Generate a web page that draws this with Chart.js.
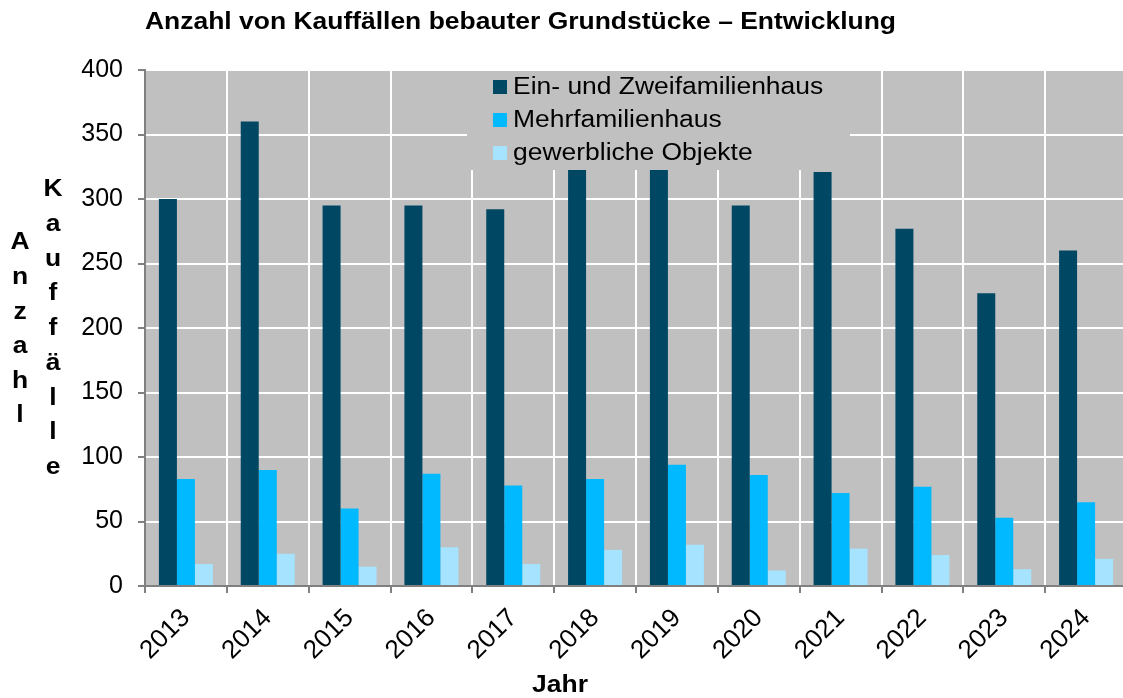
<!DOCTYPE html>
<html>
<head>
<meta charset="utf-8">
<script src="https://cdn.jsdelivr.net/npm/chart.js@4.4.1/dist/chart.umd.min.js"></script>
<style>
  html, body { margin: 0; padding: 0; background: #fff; overflow: hidden; }
  #wrap { width: 1127px; height: 698px; }
</style>
</head>
<body>
<div id="wrap"><canvas id="kaufChart"></canvas></div>
<script>
const years = ['2013', '2014', '2015', '2016', '2017', '2018', '2019', '2020', '2021', '2022', '2023', '2024'];
const einZwei = [300, 360, 295, 295, 292, 330, 335, 295, 321, 277, 227, 260];
const mehrfam = [83, 90, 60, 87, 78, 83, 94, 86, 72, 77, 53, 65];
const gewerbe = [17, 25, 15, 30, 17, 28, 32, 12, 29, 24, 13, 21];
const yTicks = [0, 50, 100, 150, 200, 250, 300, 350, 400];

const FONT = '"Liberation Sans", Arial, sans-serif';
const STRETCH = 1.15;

// text a bit wider than the font, as in the original export
function wideText(ctx, text, x, y, align) {
  ctx.save();
  ctx.translate(x, y);
  ctx.scale(STRETCH, 1);
  ctx.textAlign = align || 'left';
  ctx.fillText(text, 0, 0);
  ctx.restore();
}

const decor = {
  id: 'decor',
  beforeDraw(chart) {
    const { ctx, chartArea: a } = chart;
    ctx.save();
    ctx.fillStyle = '#c0c0c0';
    ctx.fillRect(a.left, a.top, a.right - a.left, a.bottom - a.top);
    ctx.restore();
  },
  afterDatasetsDraw(chart) {
    const ctx = chart.ctx;
    ctx.save();
    // legend box over the bars
    ctx.fillStyle = '#c0c0c0';
    ctx.fillRect(467, 71, 383, 99);
    ctx.font = '23px ' + FONT;
    ctx.textBaseline = 'middle';
    chart.data.datasets.forEach((ds, i) => {
      const y = 87 + i * 33;
      ctx.fillStyle = ds.backgroundColor;
      ctx.fillRect(493, y - 7, 14, 14);
      ctx.fillStyle = '#000';
      wideText(ctx, ds.label, 513, y + 1);
    });
    ctx.restore();
  },
  afterDraw(chart) {
    const ctx = chart.ctx;
    ctx.save();
    ctx.fillStyle = '#000';
    ctx.font = 'bold 23px ' + FONT;
    ctx.textBaseline = 'middle';
    wideText(ctx, 'Anzahl von Kauffällen bebauter Grundstücke – Entwicklung', 145, 23);

    'Anzahl'.split('').forEach((ch, i) => wideText(ctx, ch, 20, 243 + i * 34.6, 'center'));
    'Kauffälle'.split('').forEach((ch, i) => wideText(ctx, ch, 53, 190 + i * 34.7, 'center'));
    wideText(ctx, 'Jahr', 560, 686, 'center');
    ctx.restore();
  }
};

new Chart(document.getElementById('kaufChart'), {
  type: 'bar',
  data: {
    labels: years,
    datasets: [
      { label: 'Ein- und Zweifamilienhaus', data: einZwei, backgroundColor: '#004763' },
      { label: 'Mehrfamilienhaus', data: mehrfam, backgroundColor: '#00b9ff' },
      { label: 'gewerbliche Objekte', data: gewerbe, backgroundColor: '#a5e3ff' }
    ]
  },
  options: {
    responsive: true,
    maintainAspectRatio: false,
    animation: false,
    layout: { padding: { top: 70, left: 0, right: 0, bottom: 0 } },
    datasets: {
      bar: { categoryPercentage: 0.66, barPercentage: 1.0, borderWidth: 0 }
    },
    plugins: {
      legend: { display: false },
      title: { display: false },
      tooltip: { enabled: false }
    },
    scales: {
      x: {
        grid: { offset: true, color: '#ffffff', lineWidth: 2, tickColor: '#808080', tickLength: 7 },
        border: { color: '#808080', width: 2 },
        ticks: {
          color: '#000',
          font: { family: FONT, size: 26 },
          maxRotation: 45,
          minRotation: 45,
          padding: 10
        },
        afterFit(scale) { scale.height = 112; }
      },
      y: {
        min: 0,
        max: 400,
        afterBuildTicks(scale) { scale.ticks = yTicks.map(v => ({ value: v })); },
        grid: { color: '#ffffff', lineWidth: 2, tickColor: '#808080', tickLength: 7 },
        border: { color: '#808080', width: 2 },
        ticks: {
          color: '#000',
          font: { family: FONT, size: 25 },
          padding: 15
        },
        afterFit(scale) { scale.width = 145; }
      }
    }
  },
  plugins: [decor]
});
</script>
</body>
</html>
